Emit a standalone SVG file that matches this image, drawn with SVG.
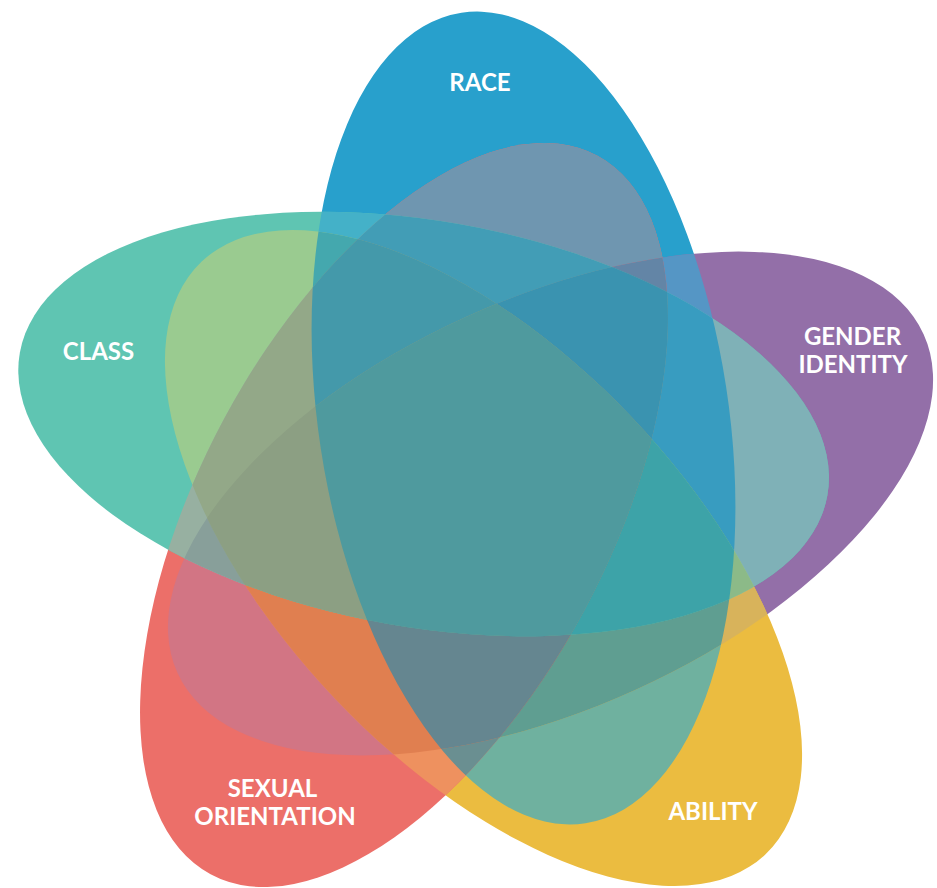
<svg xmlns="http://www.w3.org/2000/svg" width="937" height="888" viewBox="0 0 937 888">
<style>
.lbl{font-family:Lato,"Open Sans","Liberation Sans",sans-serif;font-weight:700;font-size:24px;fill:#ffffff;text-anchor:middle}
</style>
<defs>
<ellipse id="eR" cx="523.5" cy="418" rx="410" ry="205" transform="rotate(81.3 523.5 418)"/>
<ellipse id="eG" cx="550.5" cy="503.5" rx="409.7" ry="204.9" transform="rotate(-24.4 550.5 503.5)"/>
<ellipse id="eA" cx="483.5" cy="558" rx="409" ry="204.5" transform="rotate(46.4 483.5 558)"/>
<ellipse id="eS" cx="404" cy="515" rx="408" ry="204" transform="rotate(118.3 404 515)"/>
<ellipse id="eC" cx="423.6" cy="424" rx="410" ry="203" transform="rotate(10 423.6 424)"/>
<clipPath id="kR"><use href="#eR"/></clipPath>
<clipPath id="kG"><use href="#eG"/></clipPath>
<clipPath id="kA"><use href="#eA"/></clipPath>
<clipPath id="kS"><use href="#eS"/></clipPath>
<clipPath id="kC"><use href="#eC"/></clipPath>
</defs>
<rect width="937" height="888" fill="#ffffff"/>
<g id="race"><use href="#eR" fill="#28a0cc"/><text class="lbl" x="480" y="91">RACE</text></g>
<g id="gender-identity"><use href="#eG" fill="#936fa8"/><text class="lbl" x="852.5" y="345">GENDER</text><text class="lbl" x="853" y="373">IDENTITY</text></g>
<g id="ability"><use href="#eA" fill="#ebbc40"/><text class="lbl" x="713" y="820">ABILITY</text></g>
<g id="sexual-orientation"><use href="#eS" fill="#ec6f69"/><text class="lbl" x="272.5" y="797">SEXUAL</text><text class="lbl" x="275" y="825">ORIENTATION</text></g>
<g id="class"><use href="#eC" fill="#5fc5b2"/><text class="lbl" x="98.5" y="360">CLASS</text></g>
<g id="overlaps">
<g clip-path="url(#kG)"><use href="#eR" fill="#5596c5"/></g>
<g clip-path="url(#kA)"><use href="#eR" fill="#6fb19f"/></g>
<g clip-path="url(#kS)"><use href="#eR" fill="#6f96b0"/></g>
<g clip-path="url(#kC)"><use href="#eR" fill="#44b1c8"/></g>
<g clip-path="url(#kA)"><use href="#eG" fill="#d8b35b"/></g>
<g clip-path="url(#kS)"><use href="#eG" fill="#d27584"/></g>
<g clip-path="url(#kC)"><use href="#eG" fill="#7fb1b7"/></g>
<g clip-path="url(#kS)"><use href="#eA" fill="#ee915f"/></g>
<g clip-path="url(#kC)"><use href="#eA" fill="#9acb90"/></g>
<g clip-path="url(#kC)"><use href="#eS" fill="#97b0a1"/></g>
<g clip-path="url(#kG)"><g clip-path="url(#kA)"><use href="#eR" fill="#5f9e91"/></g></g>
<g clip-path="url(#kG)"><g clip-path="url(#kS)"><use href="#eR" fill="#6385a6"/></g></g>
<g clip-path="url(#kG)"><g clip-path="url(#kC)"><use href="#eR" fill="#389cc0"/></g></g>
<g clip-path="url(#kA)"><g clip-path="url(#kS)"><use href="#eR" fill="#6a8f91"/></g></g>
<g clip-path="url(#kA)"><g clip-path="url(#kC)"><use href="#eR" fill="#44a8ae"/></g></g>
<g clip-path="url(#kS)"><g clip-path="url(#kC)"><use href="#eR" fill="#429db6"/></g></g>
<g clip-path="url(#kA)"><g clip-path="url(#kS)"><use href="#eG" fill="#e07f50"/></g></g>
<g clip-path="url(#kA)"><g clip-path="url(#kC)"><use href="#eG" fill="#8cba88"/></g></g>
<g clip-path="url(#kS)"><g clip-path="url(#kC)"><use href="#eG" fill="#889f9a"/></g></g>
<g clip-path="url(#kS)"><g clip-path="url(#kC)"><use href="#eA" fill="#93a888"/></g></g>
<g clip-path="url(#kG)"><g clip-path="url(#kA)"><g clip-path="url(#kS)"><use href="#eR" fill="#658690"/></g></g></g>
<g clip-path="url(#kG)"><g clip-path="url(#kA)"><g clip-path="url(#kC)"><use href="#eR" fill="#3da3a8"/></g></g></g>
<g clip-path="url(#kG)"><g clip-path="url(#kS)"><g clip-path="url(#kC)"><use href="#eR" fill="#3a93b0"/></g></g></g>
<g clip-path="url(#kA)"><g clip-path="url(#kS)"><g clip-path="url(#kC)"><use href="#eR" fill="#4499aa"/></g></g></g>
<g clip-path="url(#kA)"><g clip-path="url(#kS)"><g clip-path="url(#kC)"><use href="#eG" fill="#8c9f83"/></g></g></g>
<g clip-path="url(#kG)"><g clip-path="url(#kA)"><g clip-path="url(#kS)"><g clip-path="url(#kC)"><use href="#eR" fill="#4f9a9e"/></g></g></g></g>
</g>
</svg>
